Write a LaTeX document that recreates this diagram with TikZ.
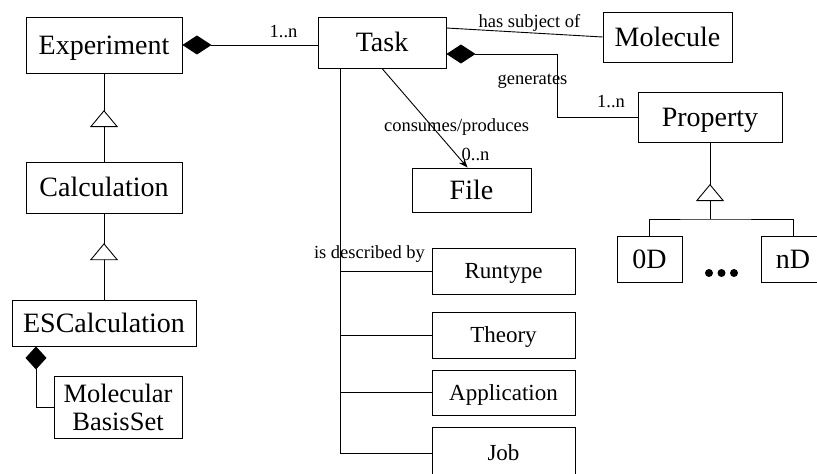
\documentclass[tikz,border=0pt]{standalone}
\usepackage{fontspec}
\setmainfont{Liberation Serif}
\usetikzlibrary{arrows.meta,decorations.markings}
\begin{document}
\begin{tikzpicture}[x=1bp,y=-1bp,line width=0.9bp,
  box/.style={draw,line width=0.9bp,inner sep=0pt,font=\fontsize{28bp}{31bp}\selectfont,text height=18.5bp,text depth=0pt},
  sbox/.style={box,font=\fontsize{23bp}{26bp}\selectfont,text height=15.2bp},
  lbl/.style={inner sep=0pt,font=\fontsize{18.5bp}{21bp}\selectfont},
  compA/.style={{Diamond[length=29bp,width=19bp]}-},
  compB/.style={{Diamond[length=23bp,width=21bp]}-},
  inh/.style={postaction={decorate},decoration={markings,mark=at position #1 with {\arrow{Triangle[fill=white,length=17bp,width=28bp]}}}},
  flow/.style={-{Stealth[length=9bp,width=7bp]}}
]
\fill[white] (0,0) rectangle (817,474);
\useasboundingbox (0,0) rectangle (817,474);

% classes
\node[box,minimum width=156bp,minimum height=56bp] (exp) at (104,45) {Experiment};
\node[box,minimum width=128bp,minimum height=51bp] (task) at (382,42.5) {Task};
\node[box,minimum width=156bp,minimum height=51bp] (calc) at (104,187.5) {Calculation};
\node[box,minimum width=184bp,minimum height=46bp] (esc) at (104,323) {ESCalculation};
\node[draw,inner sep=0pt,align=center,font=\fontsize{26.5bp}{28bp}\selectfont,minimum width=128bp,minimum height=62bp] (mbs) at (118,407) {Molecular\\BasisSet};
\node[box,minimum width=129bp,minimum height=50bp] (mol) at (667.5,37) {Molecule};
\node[box,minimum width=144bp,minimum height=50bp] (prop) at (710,117.5) {Property};
\node[box,minimum width=119bp,minimum height=44bp] (file) at (471.5,190) {File};
\node[box,minimum width=65bp,minimum height=46bp] (d0) at (649.5,259) {0D};
\node[box,minimum width=64bp,minimum height=46bp] (dn) at (793,259) {nD};
\node[sbox,minimum width=143bp,minimum height=46bp] (run) at (503.5,271) {Runtype};
\node[sbox,minimum width=143bp,minimum height=46bp] (theo) at (503.5,335) {Theory};
\node[sbox,minimum width=143bp,minimum height=45bp] (app) at (503.5,392.5) {Application};
\node[sbox,minimum width=143bp,minimum height=52bp] (job) at (503.5,453) {Job};

% dots
\fill (709,273) circle (4);
\fill (721.5,273) circle (4);
\fill (734,273) circle (4);

% Experiment <>-- Task
\draw[compA] (exp.east) -- (task.west |- exp.east);
\node[lbl] (m1) at (283.5,32) {1..n};

% inheritance
\draw[inh=0.584] (calc.north) -- (exp.south);
\draw[inh=0.655] (esc.north) -- (calc.south);

% ESCalculation <>-- MolecularBasisSet
\draw[compB] ([xshift=-68bp]esc.south) |- (mbs.west);

% Task -- Molecule
\draw ([yshift=14.5bp]task.east) -- (mol.west);
\node[lbl] (hs) at (529.5,23) {has subject of};

% Task <>-- Property
\coordinate (gb) at (557,117.5);
\draw[compA] ([yshift=-11.5bp]task.east) -| (gb) -- (prop.west);
\node[lbl] (gen) at (532.5,81) {generates};
\node[lbl] (m2) at (611,102) {1..n};

% Property subclasses
\coordinate (pj) at (710,219);
\draw[inh=0.46] (pj) -- (prop.south);
\draw (d0.north) |- (pj) -| (dn.north);

% Task -> File
\draw[flow] (task.south) -- ([xshift=-4bp]file.north);
\node[lbl] (cp) at (456.5,127) {consumes/produces};
\node[lbl] (m3) at (475.5,154) {0..n};

% is described by
\draw ([xshift=-42bp]task.south) |- (run.west);
\draw ([xshift=-42bp]task.south) |- (theo.west);
\draw ([xshift=-42bp]task.south) |- (app.west);
\draw ([xshift=-42bp]task.south) |- (job.west);
\node[lbl] (isd) at (369.5,254) {is described by};
\end{tikzpicture}
\end{document}
